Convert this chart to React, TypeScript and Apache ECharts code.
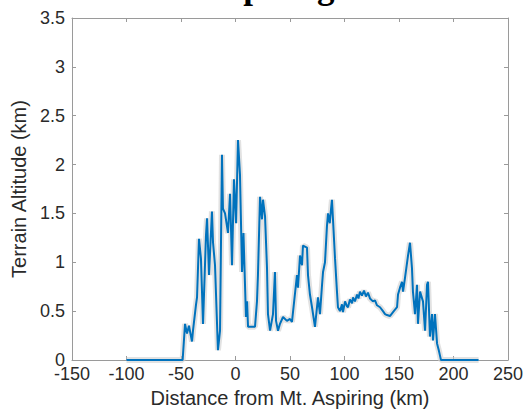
import React, { useEffect, useRef } from "react";
import * as echarts from "echarts";

const titleText = "Mt. Aspiring";
const xAxisName = "Distance from Mt. Aspiring (km)";
const yAxisName = "Terrain Altitude (km)";

const distanceKm = [
  -100, -48.5, -46.3, -44.5, -42.7, -39.9, -39, -36.2, -35.3, -33.5, -31.7, -29.8,
  -27.1, -26.1, -24.3, -21.6, -20.6, -18.8, -16.1, -14.2, -12.4, -11.5, -9.6, -6.9,
  -5, -3.2, -1.4, 0.5, 2.3, 4.1, 6, 7.3, 9.6, 10.6, 11.5, 15.1, 17.9, 19.7, 20.6,
  22.5, 24.3, 25.2, 27.1, 28.9, 29.8, 31.7, 34.4, 36.2, 37.2, 39, 40.8, 43.6, 47.2,
  50, 51.8, 56.4, 57.3, 59.2, 61, 61.9, 65.6, 66.5, 68.3, 70.2, 72.9, 75.7, 77.5,
  79.4, 80.3, 82.1, 83.9, 84.9, 86.5, 87.6, 88.5, 91.3, 93.1, 94, 95.9, 97.7, 98.6,
  100.5, 102.3, 103.2, 105, 106.9, 107.8, 109.6, 111.5, 112.8, 114.2, 116, 117.9,
  119.7, 121.5, 123.4, 126.1, 128, 129.8, 132.6, 135.3, 137.2, 139, 141.7,
  144.5, 148.2, 149.1, 150.9, 152.8, 153.7, 155.5, 158.3, 160.1, 161.9, 162.8,
  164.7, 166.5, 167.4, 169.3, 172, 173.9, 175.7, 176.6, 178.4, 180.3, 181.2, 183,
  184.9, 186.5, 187.5, 188.5, 223,
];

const altitudeKm = [
  0, 0, 0.37, 0.27, 0.35, 0.19, 0.3, 0.57, 0.64, 1.24, 1.04, 0.37,
  1.27, 1.45, 0.87, 1.52, 1.2, 0.97, 0.1, 0.3, 2.1, 1.55, 1.5, 1.3,
  1.7, 0.97, 1.85, 1.4, 2.25, 1.9, 0.9, 1.3, 0.44, 0.6, 0.34, 0.34, 0.34, 0.6, 0.87,
  1.67, 1.44, 1.64, 1.47, 0.94, 0.47, 0.3, 0.47, 0.9, 0.4, 0.3, 0.37, 0.44, 0.4,
  0.42, 0.39, 0.87, 0.74, 1.07, 0.97, 1.17, 1.15, 0.87, 0.67, 0.54, 0.34, 0.64, 0.47,
  0.77, 0.9, 1.0, 1.37, 1.5, 1.4, 1.54, 1.64, 1.04, 0.7, 0.54, 0.5, 0.57, 0.49,
  0.6, 0.55, 0.54, 0.62, 0.58, 0.64, 0.6, 0.67, 0.63, 0.7, 0.66, 0.71,
  0.65, 0.69, 0.63, 0.6, 0.61, 0.56, 0.54, 0.5, 0.47, 0.46, 0.45,
  0.49, 0.54, 0.67, 0.74, 0.8, 0.7, 0.84, 1.07, 1.2, 0.94, 0.7,
  0.47, 0.77, 0.37, 0.7, 0.6, 0.3, 0.77, 0.8, 0.24, 0.47, 0.2, 0.47,
  0.17, 0.1, 0.05, 0, 0,
];

const xTicks = { min: -150, max: 250, interval: 50 };
const yTicks = { min: 0, max: 3.5, interval: 0.5 };

const FONT = "'Liberation Sans', Arial, Helvetica, sans-serif";
const AXIS_GRAY = "#9a9a9a";
const TEXT_COLOR = "#2a2a2a";

export default function App() {
  const ref = useRef<HTMLDivElement>(null);

  useEffect(() => {
    if (!ref.current) return;
    const chart = echarts.init(ref.current, null, { renderer: "svg" });
    const data = distanceKm.map((d, i) => [d, altitudeKm[i]]);

    const baseAxis = {
      type: "value" as const,
      splitLine: { show: false },
      axisLine: { show: true, onZero: false, lineStyle: { color: AXIS_GRAY, width: 1 } },
      axisTick: { show: true, inside: true, length: 4, lineStyle: { color: AXIS_GRAY } },
    };

    chart.setOption({
      animation: false,
      backgroundColor: "#ffffff",
      grid: { left: 72, right: 22, top: 18, bottom: 46, containLabel: false },
      graphic: [
        {
          type: "text",
          x: 144,
          y: -13.5,
          style: {
            text: titleText,
            fontFamily: "'Liberation Serif', 'Times New Roman', serif",
            fontWeight: "bold",
            fontSize: 35,
            fill: "#000000",
            align: "left",
            verticalAlign: "middle",
          },
        },
      ],
      xAxis: [
        {
          ...baseAxis,
          position: "bottom",
          min: xTicks.min,
          max: xTicks.max,
          interval: xTicks.interval,
          name: xAxisName,
          nameLocation: "middle",
          nameGap: 28,
          nameTextStyle: { fontFamily: FONT, fontSize: 20, color: TEXT_COLOR },
          axisLabel: {
            show: true,
            margin: 7,
            lineHeight: 14,
            fontFamily: FONT,
            fontSize: 18,
            color: TEXT_COLOR,
            showMinLabel: true,
            showMaxLabel: true,
          },
        },
        {
          ...baseAxis,
          position: "top",
          min: xTicks.min,
          max: xTicks.max,
          interval: xTicks.interval,
          axisLabel: { show: false },
        },
      ],
      yAxis: [
        {
          ...baseAxis,
          position: "left",
          min: yTicks.min,
          max: yTicks.max,
          interval: yTicks.interval,
          name: yAxisName,
          nameLocation: "middle",
          nameGap: 27,
          nameTextStyle: { fontFamily: FONT, fontSize: 20, color: TEXT_COLOR },
          axisLabel: {
            show: true,
            margin: 7,
            lineHeight: 8,
            fontFamily: FONT,
            fontSize: 18,
            color: TEXT_COLOR,
            showMinLabel: true,
            showMaxLabel: true,
          },
        },
        {
          ...baseAxis,
          position: "right",
          min: yTicks.min,
          max: yTicks.max,
          interval: yTicks.interval,
          axisLabel: { show: false },
        },
      ],
      series: [
        {
          type: "line",
          data,
          xAxisIndex: 0,
          yAxisIndex: 0,
          showSymbol: false,
          symbol: "none",
          silent: true,
          lineStyle: { color: "#cfcfcf", width: 6, opacity: 0.6 },
          z: 1,
        },
        {
          type: "line",
          data,
          xAxisIndex: 0,
          yAxisIndex: 0,
          showSymbol: false,
          symbol: "none",
          lineStyle: { color: "#0072BD", width: 2 },
          z: 2,
        },
      ],
    });

    return () => chart.dispose();
  }, []);

  return (
    <div style={{ position: "fixed", left: 0, top: 0, width: 530, height: 413, background: "#fff" }}>
      <div ref={ref} style={{ width: 530, height: 413 }} />
    </div>
  );
}
